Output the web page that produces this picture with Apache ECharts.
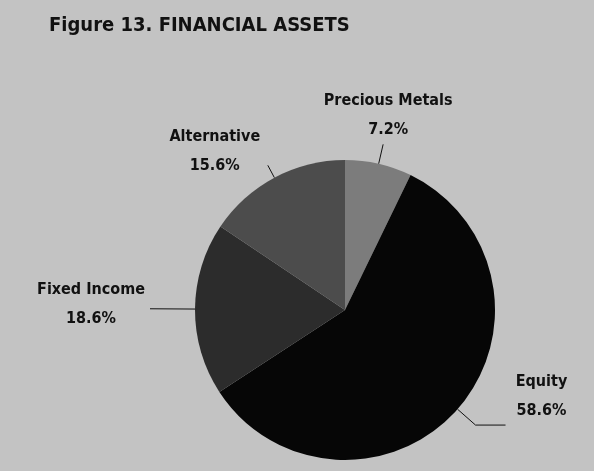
<!DOCTYPE html>
<html>
<head>
    <meta charset="utf-8">
    <title>Financial Assets</title>
    <script src="https://cdn.jsdelivr.net/npm/echarts@6/dist/echarts.min.js"></script>
    <style>
        html, body { margin: 0; padding: 0; background: #c3c3c3; }
        #main { width: 594px; height: 471px; }
    </style>
</head>
<body>
<div id="main"></div>
<script>
    // data (clockwise from 12 o'clock)
    var names = ['Precious Metals', 'Equity', 'Fixed Income', 'Alternative'];
    var shares = [7.2, 58.6, 18.6, 15.6];
    var shades = ['#7c7c7c', '#060606', '#2c2c2c', '#4c4c4c'];

    // leader line lengths and how each label hangs off the line end
    var leader = [[20, 0], [24, 30], [45, 0], [14, 0]];
    var hang = [['center', 'bottom'], ['left', 'bottom'], ['right', 'middle'], ['right', 'middle']];
    var lift = [0, 0, 8, 28];
    var boxW = [130, 62, 108, 96];

    var font = '"DejaVu Sans Condensed", sans-serif';

    function lineStyle(w) {
        return { fontFamily: font, fontWeight: 'bold', fontSize: 16, lineHeight: 29, color: '#111', width: w, align: 'center' };
    }

    var pieData = names.map(function (n, i) {
        return {
            name: n,
            value: shares[i],
            itemStyle: { color: shades[i] },
            label: {
                padding: [0, 0, lift[i], 0],
                rich: { n: lineStyle(boxW[i]), v: lineStyle(boxW[i]) }
            },
            labelLine: { length: leader[i][0], length2: leader[i][1] }
        };
    });

    var chart = echarts.init(document.getElementById('main'));
    chart.setOption({
        backgroundColor: '#c3c3c3',
        animation: false,
        title: {
            text: 'Figure 13. FINANCIAL ASSETS',
            left: 44,
            top: 11,
            textStyle: { fontFamily: font, fontWeight: 'bold', fontSize: 20, color: '#111' }
        },
        series: [{
            type: 'pie',
            center: [345, 310],
            radius: 150,
            startAngle: 90,
            clockwise: true,
            label: {
                show: true,
                position: 'outside',
                formatter: '{n|{b}}\n{v|{c}%}',
                fontFamily: font,
                fontWeight: 'bold',
                fontSize: 16,
                color: '#111'
            },
            labelLine: { show: true, lineStyle: { color: '#111', width: 1 } },
            labelLayout: function (p) {
                var h = hang[p.dataIndex];
                return { align: h[0], verticalAlign: h[1] };
            },
            itemStyle: { borderWidth: 0 },
            data: pieData
        }]
    });
</script>
</body>
</html>
